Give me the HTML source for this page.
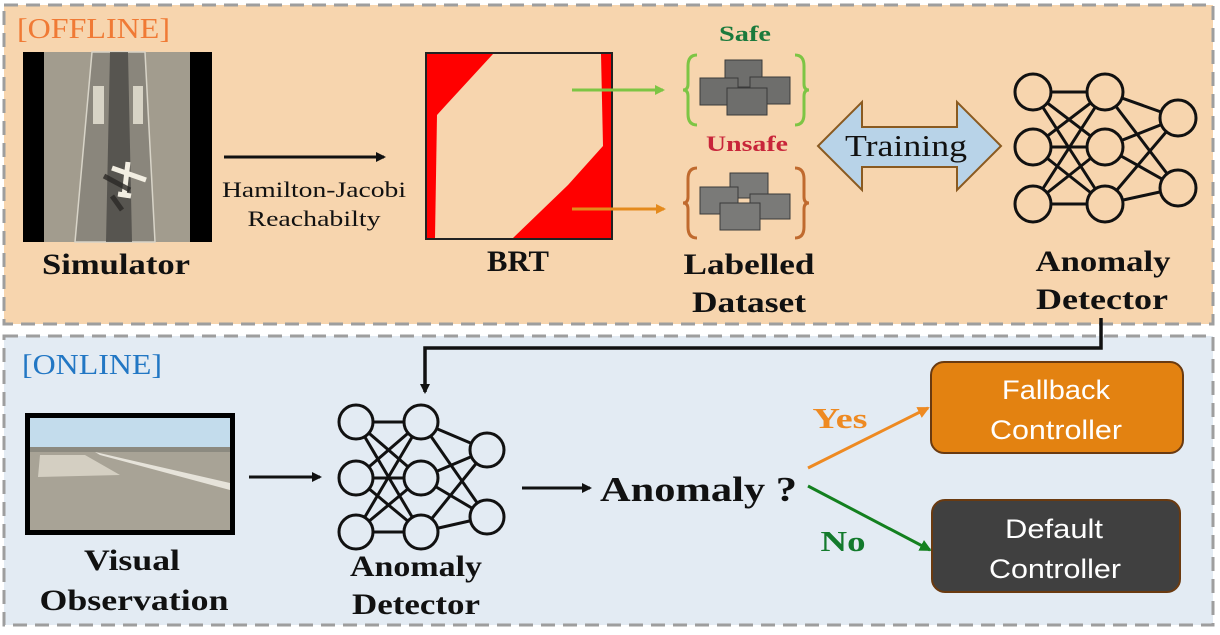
<!DOCTYPE html>
<html><head><meta charset="utf-8"><style>
html,body{margin:0;padding:0;background:#fff;}
svg{display:block;}
.serif{font-family:"Liberation Serif","DejaVu Serif",serif;}
.sans{font-family:"Liberation Sans","DejaVu Sans",sans-serif;}
</style></head><body>
<svg width="1220" height="635" viewBox="0 0 1220 635" xmlns="http://www.w3.org/2000/svg">
<defs>
<marker id="ah" markerWidth="10" markerHeight="10" refX="8" refY="5" orient="auto" markerUnits="userSpaceOnUse"><path d="M0,0 L10,5 L0,10 z" fill="#111"/></marker>
<marker id="ahg" markerWidth="10" markerHeight="10" refX="8" refY="5" orient="auto" markerUnits="userSpaceOnUse"><path d="M0,0 L10,5 L0,10 z" fill="#7dc544"/></marker>
<marker id="aho" markerWidth="10" markerHeight="10" refX="8" refY="5" orient="auto" markerUnits="userSpaceOnUse"><path d="M0,0 L10,5 L0,10 z" fill="#e48a1d"/></marker>
<marker id="ahy" markerWidth="12" markerHeight="12" refX="10" refY="6" orient="auto" markerUnits="userSpaceOnUse"><path d="M0,0 L12,6 L0,12 z" fill="#ee8a22"/></marker>
<marker id="ahn" markerWidth="12" markerHeight="12" refX="10" refY="6" orient="auto" markerUnits="userSpaceOnUse"><path d="M0,0 L12,6 L0,12 z" fill="#13801f"/></marker>
</defs>

<!-- OFFLINE panel -->
<rect x="4" y="5" width="1209" height="319" fill="#f7d5ae" stroke="#9e9e9e" stroke-width="3" stroke-dasharray="14,8"/>
<text x="17" y="38" class="serif" font-size="28" fill="#f07a35" textLength="153" lengthAdjust="spacingAndGlyphs">[OFFLINE]</text>

<!-- Simulator image -->
<rect x="23" y="52" width="189" height="190" fill="#a29c8e"/>
<rect x="23" y="52" width="21" height="190" fill="#000"/>
<rect x="190" y="52" width="22" height="190" fill="#000"/>
<polygon points="92,52 145,52 155,242 75,242" fill="#8a867c" stroke="#d8d4c8" stroke-width="1.5"/>
<polygon points="110,52 128,52 132,242 106,242" fill="#4a4845" opacity="0.8"/>
<rect x="93" y="86" width="11" height="38" fill="#d8d4c6"/>
<rect x="133" y="86" width="10" height="38" fill="#d8d4c6"/>
<path d="M112,168 L146,180 M128,162 L124,196 M118,194 L131,196" stroke="#f2eee2" stroke-width="5" fill="none"/>
<path d="M104,176 L130,190 M112,196 L122,210" stroke="#2a2826" stroke-width="5" fill="none" opacity="0.8"/>
<text x="116" y="274" text-anchor="middle" class="serif" font-size="30" font-weight="bold" fill="#111" textLength="148" lengthAdjust="spacingAndGlyphs">Simulator</text>

<!-- HJ arrow -->
<line x1="224" y1="157" x2="384" y2="157" stroke="#111" stroke-width="3" marker-end="url(#ah)"/>
<text x="314" y="197" text-anchor="middle" class="serif" font-size="22" fill="#111" textLength="184" lengthAdjust="spacingAndGlyphs">Hamilton-Jacobi</text>
<text x="314" y="226" text-anchor="middle" class="serif" font-size="22" fill="#111" textLength="133" lengthAdjust="spacingAndGlyphs">Reachabilty</text>

<!-- BRT -->
<rect x="426" y="53" width="186" height="186" fill="#ff0000" stroke="#222" stroke-width="2"/>
<polygon points="493,54 601,54 603,146 568,185 513,238 435,238 437,115 447,104" fill="#f7d5ae"/>
<text x="518" y="271" text-anchor="middle" class="serif" font-size="30" font-weight="bold" fill="#111" textLength="62" lengthAdjust="spacingAndGlyphs">BRT</text>
<line x1="572" y1="90" x2="663" y2="90" stroke="#7dc544" stroke-width="3" marker-end="url(#ahg)"/>
<line x1="572" y1="209" x2="664" y2="209" stroke="#e48a1d" stroke-width="3" marker-end="url(#aho)"/>

<!-- Dataset -->
<text x="745" y="41" text-anchor="middle" class="serif" font-size="22" font-weight="bold" fill="#1a7a3c" textLength="52" lengthAdjust="spacingAndGlyphs">Safe</text>
<path d="M697,55 Q688,55 688,66 L688,84 Q688,90 683,90 Q688,90 688,96 L688,114 Q688,125 697,125" fill="none" stroke="#7dc544" stroke-width="3"/>
<path d="M795,55 Q804,55 804,66 L804,84 Q804,90 809,90 Q804,90 804,96 L804,114 Q804,125 795,125" fill="none" stroke="#7dc544" stroke-width="3"/>
<g fill="#6e6e6c" stroke="#3a3a3a" stroke-width="1">
<rect x="725" y="60" width="37" height="27"/><rect x="700" y="78" width="38" height="27"/><rect x="750" y="77" width="40" height="27"/><rect x="727" y="88" width="40" height="27"/>
</g>
<text x="747" y="151" text-anchor="middle" class="serif" font-size="22" font-weight="bold" fill="#c8253a" textLength="82" lengthAdjust="spacingAndGlyphs">Unsafe</text>
<path d="M697,168 Q688,168 688,179 L688,197 Q688,203 683,203 Q688,203 688,209 L688,227 Q688,238 697,238" fill="none" stroke="#c06a2e" stroke-width="3"/>
<path d="M795,168 Q804,168 804,179 L804,197 Q804,203 809,203 Q804,203 804,209 L804,227 Q804,238 795,238" fill="none" stroke="#c06a2e" stroke-width="3"/>
<g fill="#7a7a78" stroke="#3a3a3a" stroke-width="1">
<rect x="730" y="173" width="38" height="25"/><rect x="700" y="187" width="38" height="27"/><rect x="750" y="194" width="40" height="25"/><rect x="720" y="203" width="40" height="27"/>
</g>
<text x="749" y="274" text-anchor="middle" class="serif" font-size="30" font-weight="bold" fill="#111" textLength="131" lengthAdjust="spacingAndGlyphs">Labelled</text>
<text x="749" y="312" text-anchor="middle" class="serif" font-size="30" font-weight="bold" fill="#111" textLength="114" lengthAdjust="spacingAndGlyphs">Dataset</text>

<!-- Training arrow -->
<polygon points="818,146 862,102 862,127 957,127 957,102 1001,146 957,190 957,167 862,167 862,190" fill="#b8d3e8" stroke="#8a5a20" stroke-width="2"/>
<text x="906" y="156" text-anchor="middle" class="serif" font-size="31" fill="#111" textLength="122" lengthAdjust="spacingAndGlyphs">Training</text>

<!-- NN top -->
<g stroke="#111" stroke-width="3" fill="none">
<line x1="1033" y1="92" x2="1105" y2="92"/><line x1="1033" y1="92" x2="1105" y2="147"/><line x1="1033" y1="92" x2="1105" y2="204"/>
<line x1="1033" y1="147" x2="1105" y2="92"/><line x1="1033" y1="147" x2="1105" y2="147"/><line x1="1033" y1="147" x2="1105" y2="204"/>
<line x1="1033" y1="204" x2="1105" y2="92"/><line x1="1033" y1="204" x2="1105" y2="147"/><line x1="1033" y1="204" x2="1105" y2="204"/>
<line x1="1105" y1="92" x2="1178" y2="118"/><line x1="1105" y1="92" x2="1178" y2="188"/>
<line x1="1105" y1="147" x2="1178" y2="118"/><line x1="1105" y1="147" x2="1178" y2="188"/>
<line x1="1105" y1="204" x2="1178" y2="118"/><line x1="1105" y1="204" x2="1178" y2="188"/>
</g>
<g stroke="#111" stroke-width="3" fill="#f7d5ae">
<circle cx="1033" cy="92" r="18"/><circle cx="1033" cy="147" r="18"/><circle cx="1033" cy="204" r="18"/>
<circle cx="1105" cy="92" r="18"/><circle cx="1105" cy="147" r="18"/><circle cx="1105" cy="204" r="18"/>
<circle cx="1178" cy="118" r="18"/><circle cx="1178" cy="188" r="18"/>
</g>
<text x="1103" y="271" text-anchor="middle" class="serif" font-size="30" font-weight="bold" fill="#111" textLength="135" lengthAdjust="spacingAndGlyphs">Anomaly</text>
<text x="1102" y="309" text-anchor="middle" class="serif" font-size="30" font-weight="bold" fill="#111" textLength="132" lengthAdjust="spacingAndGlyphs">Detector</text>

<!-- ONLINE panel -->
<rect x="4" y="336" width="1209" height="289" fill="#e3ebf3" stroke="#9e9e9e" stroke-width="3" stroke-dasharray="14,8"/>
<text x="22" y="374" class="serif" font-size="28" fill="#2277c4" textLength="140" lengthAdjust="spacingAndGlyphs">[ONLINE]</text>

<!-- connector -->
<polyline points="1101,318 1101,348 425,348 425,392" fill="none" stroke="#111" stroke-width="3.5" marker-end="url(#ah)"/>

<!-- Visual observation -->
<rect x="25" y="413" width="210" height="122" fill="#000"/>
<rect x="30" y="418" width="200" height="112" fill="#a8a396"/>
<rect x="30" y="418" width="200" height="29" fill="#c3dcec"/>
<rect x="30" y="447" width="200" height="5" fill="#8c8a80"/>
<polygon points="40,455 85,455 120,475 38,477" fill="#d4cfc2"/>
<polygon points="95,452 230,483 230,490 100,455" fill="#e6e3da"/>
<text x="132" y="570" text-anchor="middle" class="serif" font-size="30" font-weight="bold" fill="#111" textLength="96" lengthAdjust="spacingAndGlyphs">Visual</text>
<text x="134" y="610" text-anchor="middle" class="serif" font-size="30" font-weight="bold" fill="#111" textLength="189" lengthAdjust="spacingAndGlyphs">Observation</text>
<line x1="249" y1="477" x2="320" y2="477" stroke="#111" stroke-width="3" marker-end="url(#ah)"/>

<!-- NN bottom -->
<g stroke="#111" stroke-width="3" fill="none">
<line x1="356" y1="422" x2="421" y2="422"/><line x1="356" y1="422" x2="421" y2="478"/><line x1="356" y1="422" x2="421" y2="532"/>
<line x1="356" y1="478" x2="421" y2="422"/><line x1="356" y1="478" x2="421" y2="478"/><line x1="356" y1="478" x2="421" y2="532"/>
<line x1="356" y1="532" x2="421" y2="422"/><line x1="356" y1="532" x2="421" y2="478"/><line x1="356" y1="532" x2="421" y2="532"/>
<line x1="421" y1="422" x2="487" y2="450"/><line x1="421" y1="422" x2="487" y2="517"/>
<line x1="421" y1="478" x2="487" y2="450"/><line x1="421" y1="478" x2="487" y2="517"/>
<line x1="421" y1="532" x2="487" y2="450"/><line x1="421" y1="532" x2="487" y2="517"/>
</g>
<g stroke="#111" stroke-width="3" fill="#e3ebf3">
<circle cx="356" cy="422" r="17"/><circle cx="356" cy="478" r="17"/><circle cx="356" cy="532" r="17"/>
<circle cx="421" cy="422" r="17"/><circle cx="421" cy="478" r="17"/><circle cx="421" cy="532" r="17"/>
<circle cx="487" cy="450" r="17"/><circle cx="487" cy="517" r="17"/>
</g>
<text x="416" y="576" text-anchor="middle" class="serif" font-size="30" font-weight="bold" fill="#111" textLength="132" lengthAdjust="spacingAndGlyphs">Anomaly</text>
<text x="416" y="614" text-anchor="middle" class="serif" font-size="30" font-weight="bold" fill="#111" textLength="128" lengthAdjust="spacingAndGlyphs">Detector</text>
<line x1="522" y1="488" x2="590" y2="488" stroke="#111" stroke-width="3" marker-end="url(#ah)"/>
<text x="600" y="501" class="serif" font-size="35" font-weight="bold" fill="#111" textLength="197" lengthAdjust="spacingAndGlyphs">Anomaly ?</text>

<!-- Yes / No -->
<line x1="808" y1="468" x2="928" y2="408" stroke="#ee8a22" stroke-width="3" marker-end="url(#ahy)"/>
<text x="840" y="428" text-anchor="middle" class="serif" font-size="29" font-weight="bold" fill="#ee8a22" textLength="55" lengthAdjust="spacingAndGlyphs">Yes</text>
<line x1="808" y1="486" x2="930" y2="550" stroke="#13801f" stroke-width="3" marker-end="url(#ahn)"/>
<text x="843" y="551" text-anchor="middle" class="serif" font-size="29" font-weight="bold" fill="#137a2c" textLength="45" lengthAdjust="spacingAndGlyphs">No</text>

<rect x="931" y="362" width="252" height="91" rx="13" fill="#e38211" stroke="#6a3a10" stroke-width="2"/>
<text x="1056" y="399" text-anchor="middle" class="sans" font-size="27" fill="#fff" textLength="108" lengthAdjust="spacingAndGlyphs">Fallback</text>
<text x="1056" y="439" text-anchor="middle" class="sans" font-size="27" fill="#fff" textLength="132" lengthAdjust="spacingAndGlyphs">Controller</text>
<rect x="932" y="500" width="248" height="92" rx="13" fill="#404040" stroke="#6a3a10" stroke-width="2"/>
<text x="1054" y="538" text-anchor="middle" class="sans" font-size="27" fill="#fff" textLength="98" lengthAdjust="spacingAndGlyphs">Default</text>
<text x="1055" y="578" text-anchor="middle" class="sans" font-size="27" fill="#fff" textLength="132" lengthAdjust="spacingAndGlyphs">Controller</text>
</svg>
</body></html>
